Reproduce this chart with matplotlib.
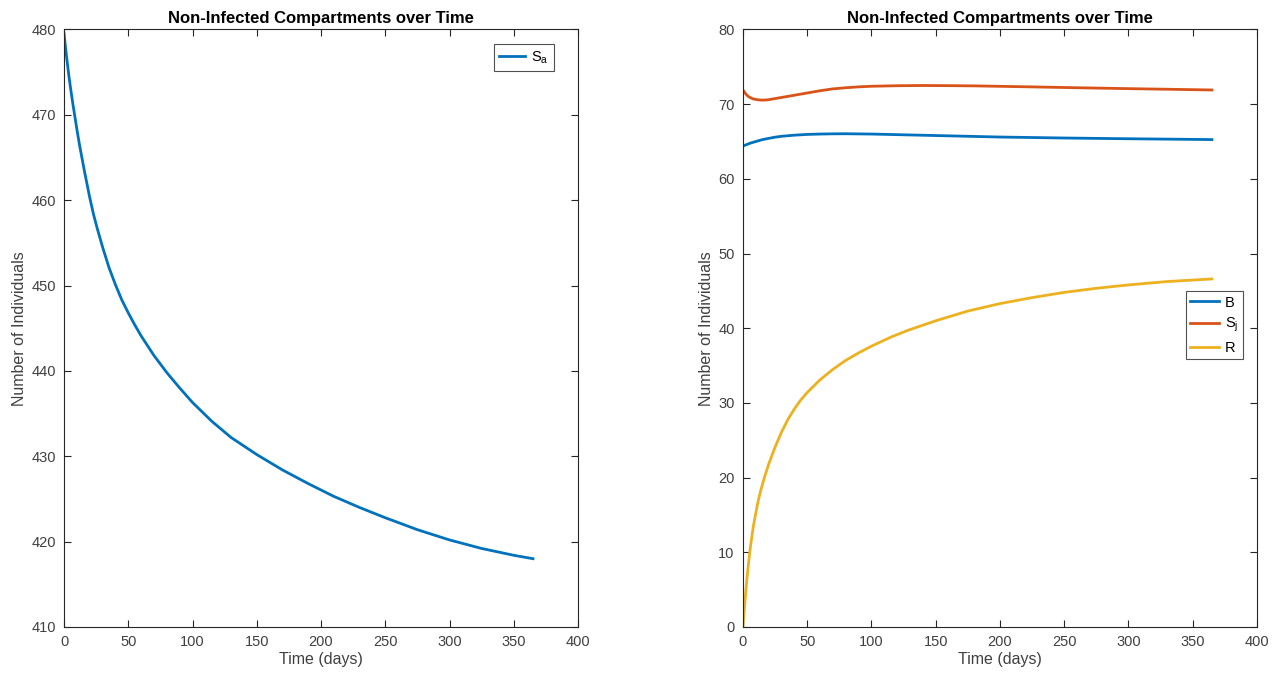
import matplotlib.pyplot as plt

plt.rcParams['font.family'] = ['Liberation Sans', 'DejaVu Sans']
plt.rcParams['mathtext.fontset'] = 'custom'
plt.rcParams['mathtext.rm'] = 'Liberation Sans'
plt.rcParams['mathtext.it'] = 'Liberation Sans'

# values
t_sa = [0, 1, 2, 3, 4, 5, 6, 7, 8, 10, 12, 14, 16, 18, 20, 23, 26, 30, 35, 40, 45, 50,
        55, 60, 70, 80, 90, 100, 115, 130, 150, 170, 190, 210, 230, 250, 275, 300, 325, 350, 365]
sa = [479.5, 478.1, 476.75, 475.5, 474.3, 473.2, 472.15, 471.15, 470.2, 468.3, 466.5, 464.9,
      463.3, 461.8, 460.3, 458.3, 456.6, 454.5, 452.1, 450.1, 448.3, 446.8,
      445.4, 444.1, 441.8, 439.8, 438.0, 436.3, 434.1, 432.2, 430.2, 428.4, 426.8, 425.3,
      424.0, 422.8, 421.4, 420.2, 419.2, 418.4, 418.0]

t_b = [0, 3, 6, 10, 15, 20, 25, 30, 40, 50, 60, 70, 80, 100, 125, 150, 200, 250, 300, 365]
b = [64.4, 64.6, 64.8, 65.0, 65.25, 65.42, 65.58, 65.7, 65.85, 65.95, 66.0, 66.03, 66.04,
     66.0, 65.9, 65.8, 65.6, 65.47, 65.37, 65.26]

t_sj = [0, 2, 4, 6, 8, 11, 14, 17, 20, 25, 30, 35, 40, 45, 50, 60, 70, 80, 90, 100, 120,
        140, 160, 180, 220, 260, 300, 330, 365]
sj = [71.9, 71.4, 71.05, 70.85, 70.7, 70.6, 70.55, 70.55, 70.6, 70.75, 70.9, 71.05, 71.2,
      71.35, 71.5, 71.8, 72.05, 72.2, 72.32, 72.4, 72.47, 72.5, 72.48, 72.45, 72.33, 72.2,
      72.08, 72.0, 71.9]

t_r = [0, 1, 2, 3, 4, 5, 6, 8, 10, 12, 14, 17, 20, 25, 30, 35, 40, 45, 50, 60, 70, 80, 90,
       100, 115, 128, 150, 175, 200, 225, 250, 275, 300, 330, 365]
r = [0, 2.3, 4.4, 6.3, 8.0, 9.6, 11.0, 13.4, 15.3, 17.0, 18.4, 20.2, 21.8, 24.1, 26.1, 27.8,
     29.2, 30.4, 31.4, 33.1, 34.5, 35.7, 36.7, 37.6, 38.8, 39.7, 41.0, 42.3, 43.3, 44.1,
     44.8, 45.35, 45.8, 46.25, 46.6]

blue = '#0072BD'
orange = '#D95319'
yellow = '#EDB120'
grey = '#262626'
tick_grey = '#404040'

fig = plt.figure(figsize=(12.81, 6.81), dpi=100)
ax1 = fig.add_axes([0.050, 0.0793, 0.4012, 0.8774])
ax2 = fig.add_axes([0.580, 0.0793, 0.4012, 0.8774])


def style(ax):
    ax.set_xlim(0, 400)
    ax.set_xticks(range(0, 401, 50))
    ax.tick_params(direction='in', top=True, right=True, labelsize=10.5, pad=6,
                   colors=grey, labelcolor=tick_grey, length=5, width=0.8)
    for s in ax.spines.values():
        s.set_color(grey)
        s.set_linewidth(0.8)
    ax.set_xlabel('Time (days)', fontsize=11.5, color=tick_grey, labelpad=2)
    ax.set_ylabel('Number of Individuals', fontsize=11.5, color=tick_grey, labelpad=3)
    ax.set_title('Non-Infected Compartments over Time', fontsize=12,
                 fontweight='bold', color='black', pad=5)


ax1.plot(t_sa, sa, color=blue, lw=2, label='S$_\\mathrm{a}$')
ax1.set_ylim(410, 480)
style(ax1)
leg = ax1.legend(loc='upper right', bbox_to_anchor=(0.953, 0.975), fontsize=10.5,
                 fancybox=False, edgecolor=grey, handlelength=1.8, handletextpad=0.4,
                 borderpad=0.35, borderaxespad=0)
leg.get_frame().set_linewidth(0.8)

ax2.plot(t_b, b, color=blue, lw=2, label='B')
ax2.plot(t_sj, sj, color=orange, lw=2, label='S$_\\mathrm{j}$')
ax2.plot(t_r, r, color=yellow, lw=2, label='R')
ax2.set_ylim(0, 80)
style(ax2)
leg = ax2.legend(loc='center right', bbox_to_anchor=(0.973, 0.505), fontsize=10.5,
                 fancybox=False, edgecolor=grey, handlelength=2.0, handletextpad=0.4,
                 borderpad=0.3, labelspacing=0.45, borderaxespad=0)
leg.get_frame().set_linewidth(0.8)

fig.savefig('out.png', dpi=100)
